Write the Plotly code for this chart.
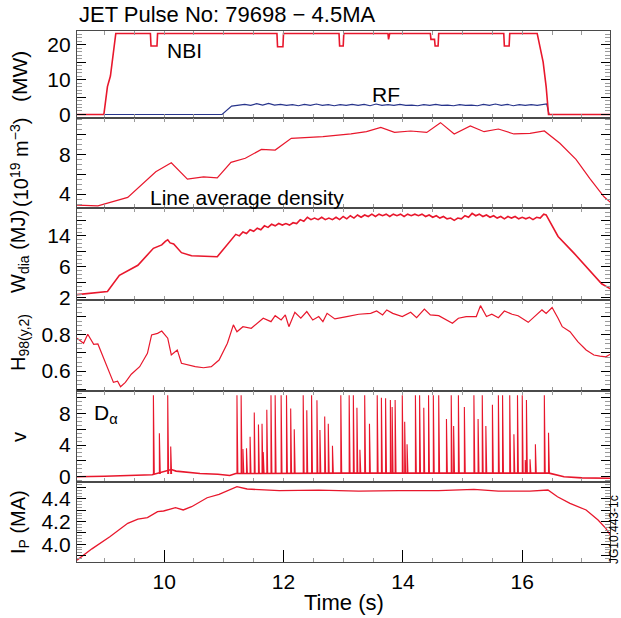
import plotly.graph_objects as go

# ---------------- data ----------------
nbi_t = [8.54, 8.99, 9.05, 9.10, 9.19, 9.77, 9.78, 9.88, 9.89, 11.89, 11.90, 11.99, 12.00,
         12.93, 12.94, 13.00, 13.01, 13.75, 13.76, 13.78, 14.46, 14.47, 14.53, 14.54, 14.59,
         14.60, 15.69, 15.70, 15.78, 15.79, 16.25, 16.35, 16.40, 16.44, 17.47]
nbi_p = [0, 0, 8, 11, 23.2, 23.2, 19.6, 19.6, 23.2, 23.2, 19.4, 19.4, 23.2,
         23.2, 19.6, 19.6, 23.2, 23.2, 21.5, 23.2, 23.2, 21.5, 21.5, 19.6, 19.6,
         23.2, 23.2, 19.6, 19.6, 23.2, 23.2, 15, 8, 0, 0]

rf_t = [8.54, 10.97, 11.13, 11.25, 11.35, 11.45, 11.55, 11.65, 11.75, 11.85, 11.95, 12.05,
        12.15, 12.25, 12.35, 12.45, 12.55, 12.65, 12.75, 12.85, 12.95, 13.05, 13.15, 13.25,
        13.35, 13.45, 13.55, 13.65, 13.75, 13.85, 13.95, 14.05, 14.15, 14.25, 14.35, 14.45,
        14.55, 14.65, 14.75, 14.85, 14.95, 15.05, 15.15, 15.25, 15.35, 15.45, 15.55, 15.65,
        15.75, 15.85, 15.95, 16.05, 16.15, 16.25, 16.35, 16.41, 16.45, 17.47]
rf_p = [0, 0, 2.4, 2.6, 2.9, 2.6, 3.1, 2.7, 3.2, 2.7, 2.9, 2.6,
        2.8, 2.5, 2.9, 2.6, 3.0, 2.6, 2.8, 2.5, 2.8, 2.6, 2.9, 2.6,
        2.9, 2.5, 3.0, 2.6, 2.8, 2.6, 2.9, 2.6, 2.7, 2.5, 2.8, 2.6,
        2.9, 2.6, 2.7, 2.5, 2.8, 2.6, 2.7, 2.5, 2.9, 2.6, 3.0, 2.6,
        2.9, 2.5, 2.8, 2.6, 2.8, 2.6, 2.9, 3.0, 0, 0]

ne_t = [8.54, 8.89, 9.39, 9.86, 10.12, 10.39, 10.66, 10.89, 11.12, 11.36, 11.63, 11.86,
        12.13, 12.39, 12.66, 13.13, 13.39, 13.63, 13.86, 14.13, 14.40, 14.63, 14.86, 15.13,
        15.36, 15.60, 15.86, 16.13, 16.37, 16.63, 16.90, 17.13, 17.37, 17.53]
ne_v = [2.89, 2.82, 3.67, 6.25, 7.15, 5.51, 5.74, 5.64, 7.19, 7.60, 8.50, 8.43,
        9.61, 9.68, 9.78, 10.05, 10.28, 10.72, 10.21, 10.35, 10.21, 11.19, 10.05, 10.85,
        10.28, 10.55, 10.05, 10.12, 10.35, 9.11, 7.50, 5.58, 3.73, 2.89]

w_t = [8.54, 9.05, 9.25, 9.56, 9.82, 9.96, 10.02, 10.06, 10.10, 10.16, 10.29, 10.46, 10.89,
       11.20, 11.26, 11.32, 11.38, 11.44, 11.50, 11.56, 11.62, 11.68, 11.74, 11.80, 11.86,
       11.92, 11.98, 12.04, 12.10, 12.16, 12.22, 12.28, 12.34, 12.40, 12.46, 12.52, 12.58,
       12.64, 12.70, 12.76, 12.82, 12.88, 12.94, 13.00, 13.06, 13.12, 13.18, 13.24, 13.30,
       13.36, 13.42, 13.48, 13.54, 13.60, 13.66, 13.72, 13.78, 13.84, 13.90, 13.96, 14.02,
       14.08, 14.14, 14.20, 14.26, 14.32, 14.38, 14.44, 14.50, 14.56, 14.62, 14.68, 14.74,
       14.80, 14.86, 14.92, 14.98, 15.04, 15.10, 15.16, 15.22, 15.28, 15.34, 15.40, 15.46,
       15.52, 15.58, 15.64, 15.70, 15.76, 15.82, 15.88, 15.94, 16.00, 16.06, 16.12, 16.18,
       16.24, 16.30, 16.36, 16.40, 16.60, 16.87, 17.13, 17.33, 17.53]
w_v = [2.43, 2.83, 4.92, 6.22, 8.40, 8.84, 9.3, 9.49, 9.1, 8.97, 7.84, 7.45, 7.32,
       10.2, 10.0, 10.5, 10.3, 10.8, 10.6, 11.0, 10.8, 11.3, 11.1, 11.5, 11.3,
       11.6, 11.4, 11.6, 11.4, 11.7, 11.6, 12.1, 11.9, 12.4, 12.1, 12.3, 12.1,
       12.4, 12.1, 12.3, 12.1, 12.4, 12.1, 12.5, 12.2, 12.6, 12.3, 12.7, 12.4,
       12.7, 12.5, 12.8, 12.5, 12.8, 12.6, 12.8, 12.5, 12.8, 12.6, 12.8, 12.5,
       12.8, 12.6, 12.8, 12.6, 12.8, 12.5, 12.7, 12.4, 12.6, 12.3, 12.5, 12.2,
       12.3, 12.0, 12.3, 12.2, 12.6, 12.4, 12.9, 12.6, 12.8, 12.5, 12.7, 12.4,
       12.6, 12.3, 12.5, 12.2, 12.5, 12.3, 12.5, 12.2, 12.4, 12.2, 12.4, 12.1,
       12.4, 12.3, 12.8, 12.7, 9.93, 7.75, 5.57, 3.83, 2.95]

h_t = [8.54, 8.65, 8.72, 8.82, 8.89, 9.05, 9.15, 9.22, 9.27, 9.35, 9.45, 9.59, 9.72, 9.79,
       9.89, 9.96, 10.06, 10.12, 10.22, 10.29, 10.39, 10.52, 10.66, 10.79, 10.92, 11.06,
       11.16, 11.22, 11.32, 11.46, 11.66, 11.79, 11.86, 11.96, 12.03, 12.09, 12.19, 12.29,
       12.39, 12.49, 12.59, 12.66, 12.73, 12.86, 13.06, 13.26, 13.46, 13.56, 13.66, 13.73,
       13.83, 13.99, 14.13, 14.23, 14.36, 14.46, 14.60, 14.73, 14.83, 14.93, 15.06, 15.23,
       15.30, 15.40, 15.49, 15.60, 15.70, 15.83, 15.93, 16.10, 16.23, 16.33, 16.40, 16.50,
       16.60, 16.67, 16.80, 16.93, 17.07, 17.20, 17.30, 17.40, 17.53]
h_v = [0.782, 0.754, 0.804, 0.748, 0.750, 0.624, 0.537, 0.544, 0.513, 0.537, 0.582, 0.624,
       0.698, 0.800, 0.809, 0.822, 0.782, 0.689, 0.717, 0.643, 0.633, 0.624, 0.618, 0.624,
       0.661, 0.754, 0.856, 0.818, 0.846, 0.837, 0.893, 0.874, 0.907, 0.883, 0.911, 0.846,
       0.926, 0.893, 0.930, 0.883, 0.902, 0.874, 0.920, 0.889, 0.902, 0.915, 0.920, 0.933,
       0.911, 0.939, 0.920, 0.902, 0.926, 0.896, 0.944, 0.911, 0.907, 0.883, 0.865, 0.893,
       0.902, 0.902, 0.963, 0.902, 0.915, 0.896, 0.933, 0.915, 0.907, 0.870, 0.911, 0.939,
       0.920, 0.952, 0.893, 0.846, 0.818, 0.763, 0.717, 0.689, 0.683, 0.679, 0.704]

da_base_t = [8.54, 9.0, 9.8, 10.12, 10.2, 10.4, 10.6, 10.9, 11.1, 11.2, 13.0, 16.45, 16.7, 17.0, 17.47]
da_base_v = [0.0, 0.05, 0.25, 0.9, 0.7, 0.55, 0.4, 0.3, 0.15, 0.4, 0.45, 0.45, 0.0, -0.15, -0.2]
elm_t = [9.82, 9.92, 10.06, 10.11, 11.22, 11.29, 11.32, 11.38, 11.44, 11.51, 11.58, 11.64,
         11.66, 11.72, 11.79, 11.86, 11.96, 12.05, 12.12, 12.18, 12.33, 12.39, 12.47, 12.56,
         12.61, 12.69, 12.75, 12.82, 12.96, 13.10, 13.17, 13.23, 13.28, 13.36, 13.44, 13.57,
         13.64, 13.71, 13.79, 13.82, 13.87, 13.99, 14.03, 14.07, 14.21, 14.28, 14.35, 14.43,
         14.51, 14.60, 14.73, 14.81, 14.85, 14.93, 15.03, 15.19, 15.26, 15.33, 15.39, 15.50,
         15.60, 15.67, 15.79, 15.86, 15.92, 16.00, 16.05, 16.07, 16.13, 16.22, 16.37, 16.44]
elm_h = [10.3, 5.5, 10.3, 3.8, 10.3, 10.3, 3.5, 3.6, 5.05, 8.1, 6.6, 6.7,
         3.1, 8.45, 10.3, 10.3, 10.3, 10.3, 8.6, 6.0, 10.3, 8.4, 10.3, 9.65,
         5.9, 7.6, 6.7, 3.9, 10.3, 10.3, 10.3, 8.7, 3.4, 10.3, 6.7, 10.3,
         9.97, 9.9, 9.7, 8.8, 9.7, 10.3, 6.95, 4.1, 10.3, 10.3, 8.7, 10.3,
         10.3, 10.3, 7.3, 10.3, 6.4, 10.3, 8.8, 10.3, 7.3, 10.3, 6.4, 9.1,
         10.3, 10.3, 10.3, 5.35, 10.3, 10.3, 2.1, 9.7, 2.2, 4.1, 10.3, 5.55]

ip_t = [8.54, 8.79, 9.09, 9.39, 9.56, 9.72, 9.89, 9.99, 10.19, 10.32, 10.46, 10.72, 10.92,
        11.09, 11.22, 11.39, 11.93, 12.59, 13.26, 13.93, 14.60, 15.19, 15.60, 16.13, 16.43,
        16.59, 16.80, 17.07, 17.27, 17.40, 17.51]
ip_v = [3.86, 3.96, 4.067, 4.185, 4.223, 4.235, 4.288, 4.294, 4.323, 4.303, 4.332, 4.411, 4.441,
        4.479, 4.508, 4.488, 4.473, 4.479, 4.470, 4.473, 4.473, 4.485, 4.470, 4.470, 4.479,
        4.420, 4.362, 4.303, 4.215, 4.141, 4.053]

x_ticks = [10, 12, 14, 16]

# ---------------- figure ----------------
RED = '#e8172c'
BLUE = '#27348b'
FONT = 'Liberation Sans, Arial, Helvetica, sans-serif'
TICK_FS = 21
LAB_FS = 20

fig = go.Figure()

# domains (bottom, top) for rows 1..6 (top to bottom)
doms = [(0.8362, 1.0), (0.6667, 0.8362), (0.4934, 0.6667),
        (0.3220, 0.4934), (0.1507, 0.3220), (0.0, 0.1507)]

def ax(n):
    return '' if n == 1 else str(n)

fig.add_trace(go.Scatter(x=rf_t, y=rf_p, mode='lines', line=dict(color=BLUE, width=1.2),
                         xaxis='x', yaxis='y'))
fig.add_trace(go.Scatter(x=nbi_t, y=nbi_p, mode='lines', line=dict(color=RED, width=1.6),
                         xaxis='x', yaxis='y'))
fig.add_trace(go.Scatter(x=ne_t, y=ne_v, mode='lines', line=dict(color=RED, width=1.2),
                         xaxis='x2', yaxis='y2'))
fig.add_trace(go.Scatter(x=w_t, y=w_v, mode='lines', line=dict(color=RED, width=1.6),
                         xaxis='x3', yaxis='y3'))
fig.add_trace(go.Scatter(x=h_t, y=h_v, mode='lines', line=dict(color=RED, width=1.2),
                         xaxis='x4', yaxis='y4'))
sx, sy = [], []
for t, hgt in zip(elm_t, elm_h):
    sx += [t, t, t + 0.015, None]
    sy += [0.35, hgt, 0.35, None]
fig.add_trace(go.Scatter(x=sx, y=sy, mode='lines', line=dict(color=RED, width=1.1),
                         xaxis='x5', yaxis='y5'))
fig.add_trace(go.Scatter(x=da_base_t, y=da_base_v, mode='lines', line=dict(color=RED, width=1.6),
                         xaxis='x5', yaxis='y5'))
fig.add_trace(go.Scatter(x=ip_t, y=ip_v, mode='lines', line=dict(color=RED, width=1.3),
                         xaxis='x6', yaxis='y6'))

yspecs = [
    dict(range=[-1.0, 23.9], tickvals=[0, 5, 10, 15, 20], ticktext=['0', '', '10', '', '20'], minor=1),
    dict(range=[2.6, 11.66], tickvals=[4, 6, 8, 10], ticktext=['4', '', '8', ''], minor=0.5),
    dict(range=[1.74, 13.6], tickvals=[2, 4, 6, 8, 10, 12], ticktext=['2', '', '6', '', '14', ''], minor=0.5),
    dict(range=[0.489, 0.994], tickvals=[0.5, 0.6, 0.7, 0.8, 0.9], ticktext=['', '0.6', '', '0.8', ''], minor=0.025),
    dict(range=[-0.67, 10.82], tickvals=[0, 2, 4, 6, 8, 10], ticktext=['0', '', '4', '', '8', ''], minor=0.5),
    dict(range=[3.844, 4.55], tickvals=[3.9, 4.0, 4.1, 4.2, 4.3, 4.4, 4.5], ticktext=['', '4.0', '', '4.2', '', '4.4', ''], minor=0.025),
]

layout = dict(
    width=621, height=618,
    margin=dict(l=77, r=11, t=31, b=56),
    paper_bgcolor='white', plot_bgcolor='white',
    showlegend=False,
    font=dict(family=FONT, size=TICK_FS, color='black'),
)

LINE_C = '#4a4a4a'
LINE_W = 1.3

for i in range(6):
    n = i + 1
    spec = yspecs[i]
    layout['yaxis' + ax(n)] = dict(
        domain=list(doms[i]), anchor='x' + ax(n), range=spec['range'],
        tickmode='array', tickvals=spec['tickvals'], ticktext=spec['ticktext'],
        ticks='inside', ticklen=9, tickwidth=1.2, tickcolor='black',
        minor=dict(ticks='inside', ticklen=5, tickcolor='#9a9a9a', tickwidth=1, dtick=spec['minor']),
        showline=True, linecolor=LINE_C, linewidth=LINE_W, mirror='ticks',
        showgrid=False, zeroline=False, tickfont=dict(size=TICK_FS, family=FONT),
        ticklabelstandoff=1,
    )
    xa = dict(
        domain=[0, 1], anchor='y' + ax(n), range=[8.54, 17.47],
        showline=True, linecolor=LINE_C, linewidth=LINE_W,
        showgrid=False, zeroline=False,
    )
    if n < 6:
        xa.update(matches='x6', showticklabels=False, ticks='inside', tickmode='linear',
                  tick0=8.5, dtick=0.5, ticklen=4, tickcolor='#9a9a9a', tickwidth=1, mirror='ticks')
    else:
        xa.update(tickmode='array', tickvals=x_ticks, ticktext=[str(v) for v in x_ticks],
                  ticks='inside', ticklen=12, tickwidth=1.3, tickcolor='black', mirror=True,
                  minor=dict(ticks='inside', ticklen=4, tickcolor='#9a9a9a', dtick=0.5, tick0=8.5),
                  tickfont=dict(size=TICK_FS, family=FONT), ticklabelstandoff=1)
    layout['xaxis' + ax(n)] = xa

fig.update_layout(**layout)

def py(px):
    return (562 - px) / 531.0

def pxx(px):
    return (px - 77) / 533.0

ann = [
    dict(text='JET Pulse No: 79698 \u2212 4.5MA', x=0, y=py(15), xanchor='left', yanchor='middle', size=22, angle=0),
    dict(text='(MW)', x=pxx(19), y=py(77), xanchor='center', yanchor='middle', size=21, angle=-90),
    dict(text='(10<sup>19</sup> m<sup>\u22123</sup>)', x=pxx(19), y=py(163), xanchor='center', yanchor='middle', size=LAB_FS, angle=-90),
    dict(text='W<sub>dia</sub> (MJ)', x=pxx(19), y=py(252), xanchor='center', yanchor='middle', size=LAB_FS, angle=-90),
    dict(text='H<sub>98(y,2)</sub>', x=pxx(19), y=py(343), xanchor='center', yanchor='middle', size=LAB_FS, angle=-90),
    dict(text='v', x=pxx(19), y=py(437), xanchor='center', yanchor='middle', size=LAB_FS, angle=-90),
    dict(text='I<sub>P</sub> (MA)', x=pxx(19), y=py(522), xanchor='center', yanchor='middle', size=LAB_FS, angle=-90),
    dict(text='NBI', x=pxx(165), y=py(50), xanchor='left', yanchor='middle', size=TICK_FS, angle=0),
    dict(text='RF', x=pxx(370), y=py(94), xanchor='left', yanchor='middle', size=TICK_FS, angle=0),
    dict(text='Line average density', x=pxx(148), y=py(197), xanchor='left', yanchor='middle', size=TICK_FS, angle=0),
    dict(text='D<sub>\u03b1</sub>', x=pxx(92), y=py(414), xanchor='left', yanchor='middle', size=TICK_FS, angle=0),
    dict(text='Time (s)', x=0.5, y=py(602), xanchor='center', yanchor='middle', size=22, angle=0),
    dict(text='JG10.443-1c', x=pxx(614), y=py(530), xanchor='center', yanchor='middle', size=12, angle=-90),
]
for a in ann:
    fig.add_annotation(text=a['text'], x=a['x'], y=a['y'], xref='paper', yref='paper',
                       xanchor=a['xanchor'], yanchor=a['yanchor'], showarrow=False,
                       textangle=a['angle'], font=dict(size=a['size'], family=FONT, color='black'))

fig.write_html('out.html', config={'displayModeBar': False},
               post_script="document.body.style.margin='0';")
